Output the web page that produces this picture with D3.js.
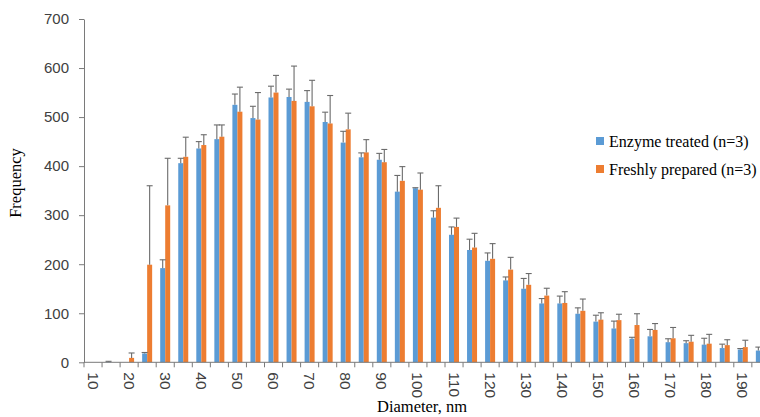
<!DOCTYPE html>
<html>
<head>
<meta charset="utf-8">
<script src="https://cdn.jsdelivr.net/npm/d3@7/dist/d3.min.js"></script>
<style>
  html, body { margin: 0; padding: 0; background: #fff; }
  svg { display: block; }
</style>
</head>
<body>
<svg id="chart" width="760" height="417"></svg>
<script>
// Particle size distribution: bins of 5 nm, mean frequency with upper error bars
const diameters = [10,15,20,25,30,35,40,45,50,55,60,65,70,75,80,85,90,95,100,105,110,115,120,125,130,135,140,145,150,155,160,165,170,175,180,185,190,195];
const tickLabels = [10,20,30,40,50,60,70,80,90,100,110,120,130,140,150,160,170,180,190];
const yTicks = [0,100,200,300,400,500,600,700];

const enzymeTreated = [0,1,0,18,192,406,436,455,525,498,540,541,531,490,448,418,413,348,355,295,260,229,207,167,150,120,120,99,83,69,48,53,41,39,36,29,26,24];
const enzymeErr     = [0,1,0,2,17,10,14,29,22,24,23,16,23,20,23,9,13,33,1,14,16,22,16,7,21,10,15,12,13,15,3,14,7,5,13,8,2,7];
const freshlyPrepared = [0,0,9,199,320,419,443,460,511,495,550,533,522,487,475,428,408,370,352,315,276,234,211,189,158,136,121,105,87,86,76,66,49,42,38,35,31,27];
const freshErr        = [0,0,10,161,96,40,21,24,50,55,35,71,53,57,33,26,26,29,34,45,18,29,31,25,23,15,23,24,14,12,23,13,22,13,19,11,14,10];

const seriesNames = ["Enzyme treated (n=3)", "Freshly prepared (n=3)"];
const seriesColors = ["#5b9bd5", "#ed7d31"];
const seriesValues = [enzymeTreated, freshlyPrepared];
const seriesErrors = [enzymeErr, freshErr];

const svg = d3.select("#chart");
const W = 760, H = 417;
const plotLeft = 84, plotTop = 19, plotBottom = 362.3;
const step = 18.05;

const x0 = d3.scaleBand()
  .domain(diameters)
  .range([plotLeft, plotLeft + step * diameters.length])
  .padding(0);
const x1 = d3.scaleBand()
  .domain([0, 1])
  .range([4, 14])
  .padding(0);
const y = d3.scaleLinear().domain([0, 700]).range([plotBottom, plotTop]);

const axisColor = "#7a7a7a";
const errColor = "#6b6b6b";

// bars
const groups = svg.append("g").selectAll("g")
  .data(diameters.map((d, i) => ({ d, i })))
  .join("g")
  .attr("transform", o => `translate(${x0(o.d)},0)`);

groups.selectAll("rect")
  .data(o => [0, 1].map(s => ({ s, v: seriesValues[s][o.i], e: seriesErrors[s][o.i] })))
  .join("rect")
  .attr("x", b => x1(b.s))
  .attr("width", x1.bandwidth())
  .attr("y", b => y(b.v))
  .attr("height", b => y(0) - y(b.v))
  .attr("fill", b => seriesColors[b.s]);

// upper error bars
const errs = groups.selectAll("g.err")
  .data(o => [0, 1].map(s => ({ s, v: seriesValues[s][o.i], e: seriesErrors[s][o.i] }))
    .filter(b => b.v > 0 || b.e > 0))
  .join("g").attr("class", "err")
  .attr("stroke", errColor).attr("stroke-width", 1.1);
errs.append("line")
  .attr("x1", b => x1(b.s) + x1.bandwidth() / 2)
  .attr("x2", b => x1(b.s) + x1.bandwidth() / 2)
  .attr("y1", b => y(b.v))
  .attr("y2", b => y(b.v + b.e));
errs.append("line")
  .attr("x1", b => x1(b.s) + x1.bandwidth() / 2 - 3)
  .attr("x2", b => x1(b.s) + x1.bandwidth() / 2 + 3)
  .attr("y1", b => y(b.v + b.e))
  .attr("y2", b => y(b.v + b.e));

// y axis
const yAxis = svg.append("g")
  .attr("transform", `translate(${plotLeft},0)`)
  .call(d3.axisLeft(y).tickValues(yTicks).tickSize(5).tickSizeOuter(0).tickPadding(10));
yAxis.select(".domain").attr("stroke", axisColor);
yAxis.selectAll(".tick line").attr("stroke", axisColor);
yAxis.selectAll(".tick text")
  .attr("fill", "#404040")
  .style("font-family", "'Liberation Sans', Arial, sans-serif")
  .style("font-size", "15px");

// x axis line and category boundary ticks
const xg = svg.append("g");
xg.append("line")
  .attr("x1", plotLeft).attr("x2", W)
  .attr("y1", plotBottom).attr("y2", plotBottom)
  .attr("stroke", axisColor);
xg.selectAll("line.bnd")
  .data(diameters)
  .join("line").attr("class", "bnd")
  .attr("x1", d => x0(d)).attr("x2", d => x0(d))
  .attr("y1", plotBottom).attr("y2", plotBottom + 5)
  .attr("stroke", axisColor);

// rotated category labels
const xAxis = svg.append("g")
  .attr("transform", `translate(0,${plotBottom})`)
  .call(d3.axisBottom(x0).tickValues(tickLabels).tickSize(0).tickSizeOuter(0));
xAxis.select(".domain").remove();
xAxis.selectAll(".tick text")
  .attr("transform", "rotate(90)")
  .attr("x", 10).attr("y", 0).attr("dy", "0.35em")
  .attr("text-anchor", "start")
  .attr("fill", "#404040")
  .style("font-family", "'Liberation Sans', Arial, sans-serif")
  .style("font-size", "15.5px");

// axis titles
svg.append("text")
  .attr("transform", `translate(21,183) rotate(-90)`)
  .attr("text-anchor", "middle")
  .style("font-family", "'Liberation Serif', 'Times New Roman', serif")
  .style("font-size", "16.5px")
  .attr("fill", "#000")
  .text("Frequency");
svg.append("text")
  .attr("x", 422).attr("y", 412)
  .attr("text-anchor", "middle")
  .style("font-family", "'Liberation Serif', 'Times New Roman', serif")
  .style("font-size", "16.5px")
  .attr("fill", "#000")
  .text("Diameter, nm");

// legend
const legend = svg.append("g").selectAll("g")
  .data(seriesNames)
  .join("g")
  .attr("transform", (d, i) => `translate(596,${141 + i * 28})`);
legend.append("rect")
  .attr("x", 0).attr("y", -4).attr("width", 8).attr("height", 8)
  .attr("fill", (d, i) => seriesColors[i]);
legend.append("text")
  .attr("x", 13).attr("y", 0).attr("dy", "0.35em")
  .style("font-family", "'Liberation Serif', 'Times New Roman', serif")
  .style("font-size", "16px")
  .attr("fill", "#000")
  .text(d => d);
</script>
</body>
</html>
